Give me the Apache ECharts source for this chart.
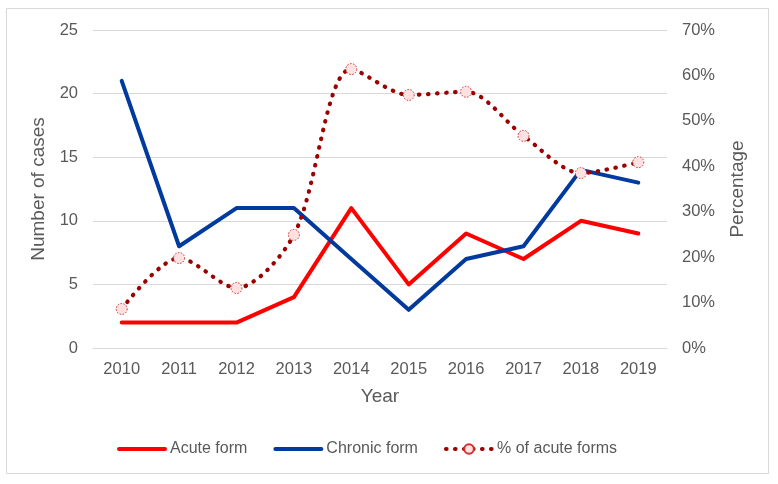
<!DOCTYPE html>
<html>
<head>
<meta charset="utf-8">
<script src="https://cdn.jsdelivr.net/npm/echarts@6/dist/echarts.min.js"></script>
<style>
html,body{margin:0;padding:0;background:#fff;}
#chart{width:778px;height:484px;}
</style>
</head>
<body>
<div id="chart"></div>
<script>
const years = ['2010','2011','2012','2013','2014','2015','2016','2017','2018','2019'];
const acuteForm = [2, 2, 2, 4, 11, 5, 9, 7, 10, 9];
const chronicForm = [21, 8, 11, 11, 7, 3, 7, 8, 14, 13];
const pctAcute = [8.6, 19.8, 13.2, 24.9, 61.4, 55.7, 56.4, 46.7, 38.5, 40.9];

const FONT = "'Liberation Sans', Arial, sans-serif";
const TXT = '#595959';
const GRID = '#d9d9d9';
const RED = '#ff0000';
const BLUE = '#003a9e';
const DARKRED = '#9c0000';

const chart = echarts.init(document.getElementById('chart'));
chart.setOption({
  backgroundColor: '#fff',
  animation: false,
  textStyle: { fontFamily: FONT },
  graphic: [{
    type: 'rect', silent: true,
    shape: { x: 6.5, y: 8.5, width: 762, height: 465 },
    style: { fill: 'none', stroke: GRID, lineWidth: 1 }
  }],
  grid: { left: 93, right: 111, top: 30, bottom: 136, containLabel: false },
  legend: {
    left: 117, top: 441, padding: 0,
    itemWidth: 46, itemHeight: 12, itemGap: 26,
    textStyle: { color: TXT, fontSize: 16, fontFamily: FONT },
    data: [
      { name: 'Acute form', itemStyle: { opacity: 0 }, lineStyle: { width: 4, color: RED } },
      { name: 'Chronic form', itemStyle: { opacity: 0 }, lineStyle: { width: 4, color: BLUE } },
      { name: '% of acute forms', lineStyle: { width: 4.2, color: DARKRED, type: [0.5, 8.5], cap: 'round' } }
    ]
  },
  xAxis: {
    type: 'category', data: years, boundaryGap: true,
    name: 'Year', nameLocation: 'middle', nameGap: 39,
    nameTextStyle: { color: TXT, fontSize: 19, fontFamily: FONT },
    axisLine: { lineStyle: { color: GRID, width: 1 } },
    axisTick: { show: false },
    axisLabel: { color: TXT, fontSize: 16.5, margin: 13, fontFamily: FONT }
  },
  yAxis: [{
    type: 'value', min: 0, max: 25, interval: 5,
    name: 'Number of cases', nameLocation: 'middle', nameGap: 40, nameRotate: 90,
    nameTextStyle: { color: TXT, fontSize: 19, fontFamily: FONT },
    axisLine: { show: false }, axisTick: { show: false },
    axisLabel: { color: TXT, fontSize: 16.5, margin: 15, fontFamily: FONT },
    splitLine: { lineStyle: { color: GRID, width: 1 } }
  }, {
    type: 'value', min: 0, max: 70, interval: 10, position: 'right',
    name: 'Percentage', nameLocation: 'middle', nameGap: 61, nameRotate: 90,
    nameTextStyle: { color: TXT, fontSize: 19, fontFamily: FONT },
    axisLine: { show: false }, axisTick: { show: false },
    axisLabel: { color: TXT, fontSize: 16.5, margin: 15, formatter: '{value}%', fontFamily: FONT },
    splitLine: { show: false }
  }],
  series: [{
    name: 'Acute form', type: 'line', data: acuteForm, yAxisIndex: 0,
    symbol: 'none', color: RED,
    lineStyle: { color: RED, width: 4, join: 'round', cap: 'round' },
    z: 2
  }, {
    name: 'Chronic form', type: 'line', data: chronicForm, yAxisIndex: 0,
    symbol: 'none', color: BLUE,
    lineStyle: { color: BLUE, width: 4, join: 'round', cap: 'round' },
    z: 3
  }, {
    name: '% of acute forms', type: 'line', data: pctAcute, yAxisIndex: 1,
    smooth: 0.3, symbol: 'circle', symbolSize: 11, showSymbol: true,
    color: DARKRED,
    lineStyle: { color: DARKRED, width: 4.2, type: [0.5, 8.5], cap: 'round' },
    itemStyle: { color: '#ffe1e1', borderColor: '#d03030', borderWidth: 1, borderType: [1.5, 1.5] },
    z: 4
  }]
});
</script>
</body>
</html>
